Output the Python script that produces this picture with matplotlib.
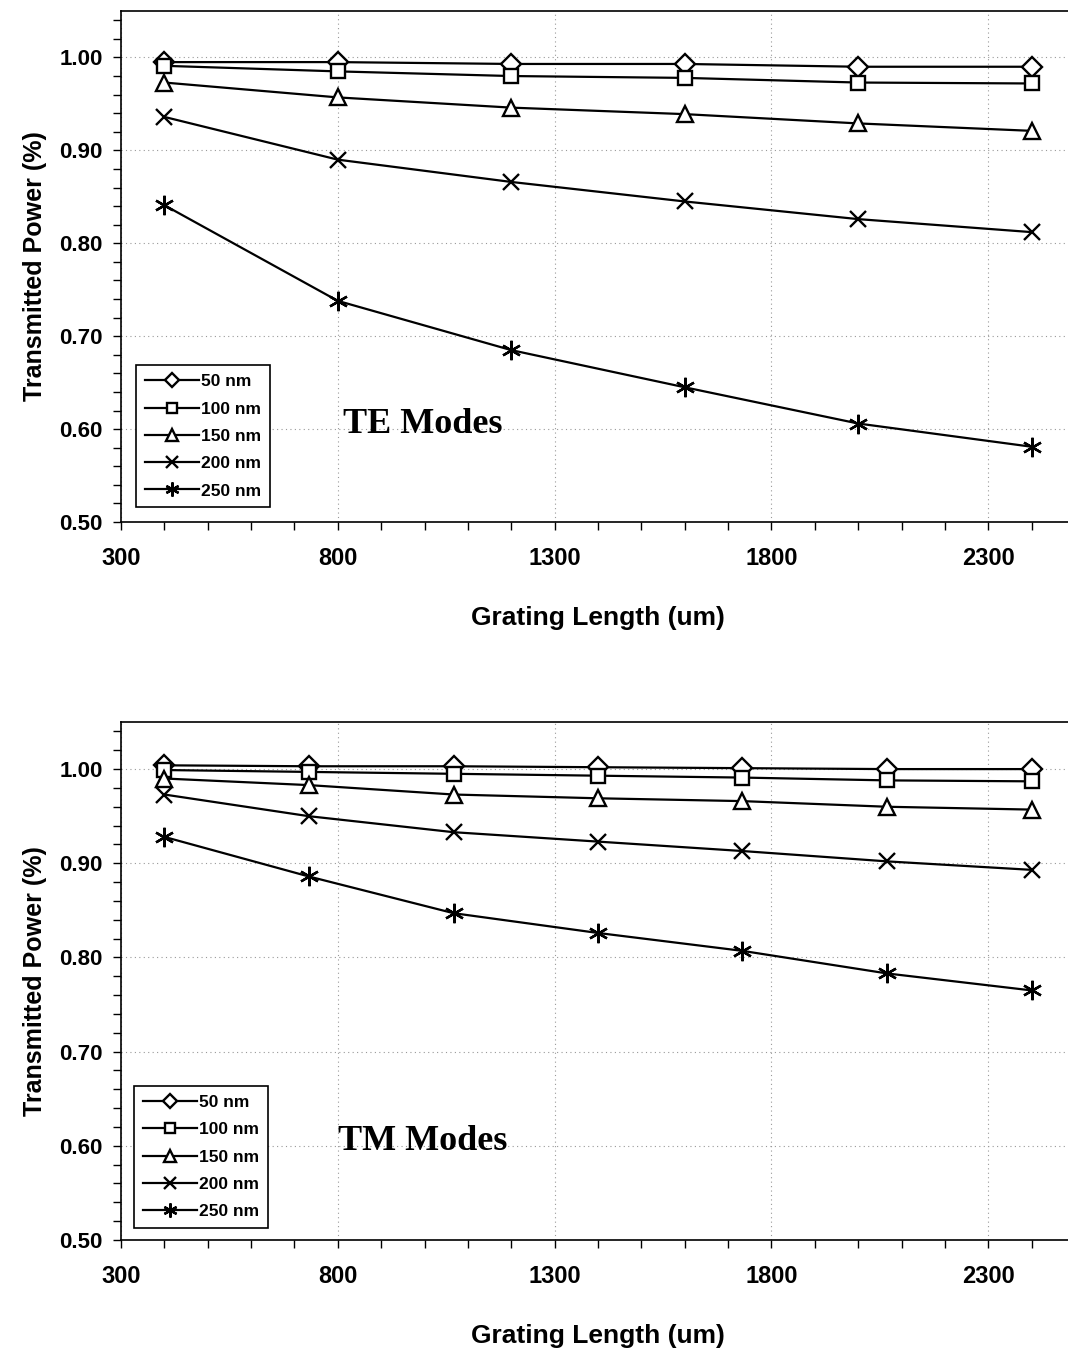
#!/usr/bin/env python3
"""
Transmitted power vs grating length for TE and TM modes
"""

import matplotlib
matplotlib.use('Agg')
import matplotlib.pyplot as plt
from matplotlib.ticker import MultipleLocator, FormatStrFormatter

# Data
depths = ['50 nm', '100 nm', '150 nm', '200 nm', '250 nm']

te_length = [400, 800, 1200, 1600, 2000, 2400]
te_50 = [0.995, 0.995, 0.993, 0.993, 0.990, 0.990]
te_100 = [0.991, 0.985, 0.980, 0.978, 0.973, 0.972]
te_150 = [0.973, 0.957, 0.946, 0.939, 0.929, 0.921]
te_200 = [0.936, 0.890, 0.866, 0.845, 0.826, 0.812]
te_250 = [0.841, 0.738, 0.685, 0.645, 0.606, 0.581]

tm_length = [400, 733, 1067, 1400, 1733, 2067, 2400]
tm_50 = [1.004, 1.003, 1.003, 1.002, 1.001, 1.000, 1.000]
tm_100 = [0.999, 0.997, 0.995, 0.993, 0.991, 0.988, 0.987]
tm_150 = [0.990, 0.983, 0.973, 0.969, 0.966, 0.960, 0.957]
tm_200 = [0.973, 0.950, 0.933, 0.923, 0.913, 0.902, 0.893]
tm_250 = [0.928, 0.886, 0.847, 0.826, 0.807, 0.783, 0.765]

markers = ['D', 's', '^', 'x', (6, 2, 0)]
msizes = [10, 10, 12, 12, 14]

W, H = 1068, 1350
fig = plt.figure(figsize=(W / 100, H / 100), dpi=100)


def draw_panel(ax, x, series, label, leg_anchor):
    for i, y in enumerate(series):
        m = markers[i]
        filled = m in ('x', (6, 2, 0))
        ax.plot(x, y, color='black', linewidth=1.6, marker=m,
                markersize=msizes[i],
                markerfacecolor='black' if filled else 'white',
                markeredgecolor='black', markeredgewidth=1.7,
                label=depths[i])

    ax.set_xlim(300, 2500)
    ax.set_ylim(0.50, 1.05)
    ax.xaxis.set_major_locator(MultipleLocator(500, offset=300))
    ax.xaxis.set_minor_locator(MultipleLocator(100))
    ax.yaxis.set_minor_locator(MultipleLocator(0.02))
    ax.yaxis.set_major_formatter(FormatStrFormatter('%.2f'))
    ax.set_yticks([0.5, 0.6, 0.7, 0.8, 0.9, 1.0])
    ax.tick_params(which='both', direction='out', length=6, width=1)
    ax.tick_params(axis='y', labelsize=16, pad=7)
    ax.tick_params(axis='x', labelsize=17, pad=12)
    for t in ax.get_yticklabels() + ax.get_xticklabels():
        t.set_fontweight('bold')
        t.set_family('Liberation Sans')

    ax.grid(True, which='major', color='#999999', linestyle=(0, (1, 3)), linewidth=0.8)
    for s in ax.spines.values():
        s.set_linewidth(1.2)

    ax.set_ylabel('Transmitted Power (%)', fontsize=18, fontweight='bold',
                  family='Liberation Sans', labelpad=9)
    ax.set_xlabel('Grating Length (um)', fontsize=19, fontweight='bold',
                  family='Liberation Sans', labelpad=26)

    ax.text(0.316, 0.19, label, transform=ax.transAxes, fontsize=26,
            fontweight='bold', family='Liberation Serif', ha='center', va='center')

    leg = ax.legend(loc='lower left', bbox_to_anchor=leg_anchor, borderaxespad=0,
                    fancybox=False, edgecolor='black', framealpha=1,
                    prop={'family': 'Liberation Sans', 'weight': 'bold', 'size': 12.5},
                    handlelength=3.1, handletextpad=0.15, labelspacing=0.7,
                    borderpad=0.5, markerscale=0.72)
    leg.get_frame().set_linewidth(1.2)


ax1 = fig.add_axes([121 / W, 1 - 522 / H, (1075 - 121) / W, (522 - 11) / H])
draw_panel(ax1, te_length, [te_50, te_100, te_150, te_200, te_250], 'TE Modes',
           (0.016, 0.029))

ax2 = fig.add_axes([121 / W, 1 - 1240 / H, (1075 - 121) / W, (1240 - 722) / H])
draw_panel(ax2, tm_length, [tm_50, tm_100, tm_150, tm_200, tm_250], 'TM Modes',
           (0.014, 0.023))

plt.savefig('out.png', dpi=100)
plt.close()
